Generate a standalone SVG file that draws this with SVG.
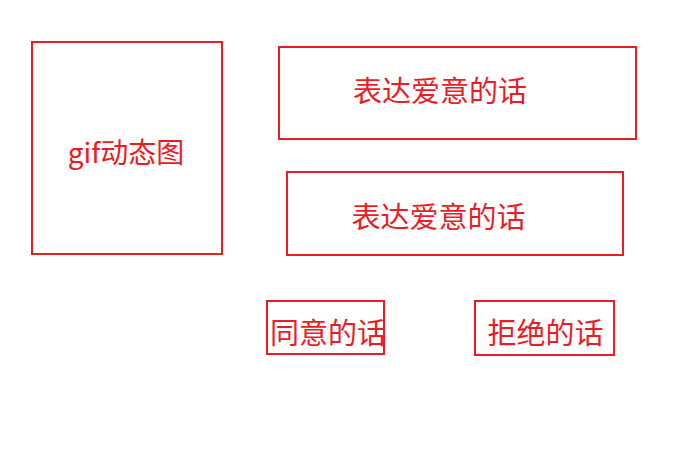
<svg xmlns="http://www.w3.org/2000/svg" width="684" height="465" viewBox="0 0 684 465">
<style>
.box{fill:#fff;stroke:#ec1c24;stroke-width:2}
.t{fill:#ec1c24;font-family:"Microsoft YaHei","Noto Sans CJK SC",sans-serif;text-anchor:middle;dominant-baseline:central}
</style>
<rect width="684" height="465" fill="#fff"/>
<g id="gif">
<rect class="box" x="32" y="42" width="190" height="212"/>
<text class="t" x="126" y="151" font-size="28">gif动态图</text>
</g>
<g id="love1">
<rect class="box" x="279" y="47" width="357" height="92"/>
<text class="t" x="440" y="89" font-size="29">表达爱意的话</text>
</g>
<g id="love2">
<rect class="box" x="287" y="172" width="336" height="83"/>
<text class="t" x="438.5" y="215" font-size="29">表达爱意的话</text>
</g>
<g id="agree">
<rect class="box" x="267" y="301" width="117" height="53"/>
<text class="t" x="328" y="331" font-size="29">同意的话</text>
</g>
<g id="refuse">
<rect class="box" x="475" y="301" width="139" height="54"/>
<text class="t" x="545.5" y="331" font-size="29">拒绝的话</text>
</g>
<g id="connectors"></g>
</svg>
